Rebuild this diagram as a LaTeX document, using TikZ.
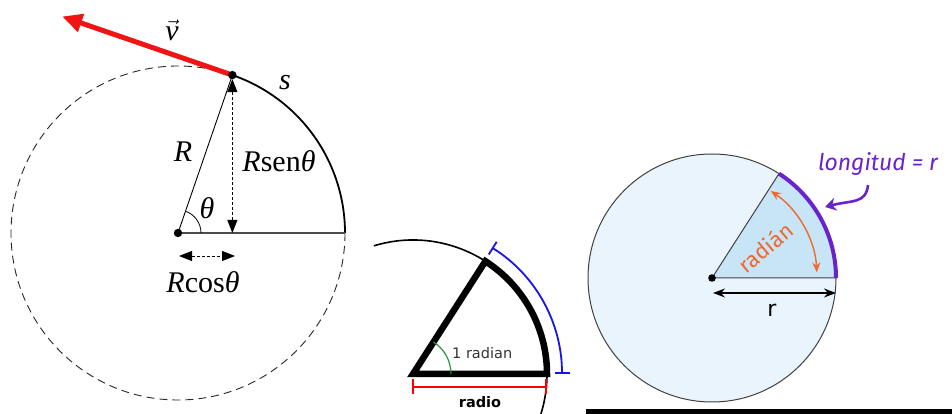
\documentclass[tikz,border=0pt]{standalone}
\usepackage{fontspec}
\setmainfont{Liberation Serif}
\setsansfont{DejaVu Sans}
\newfontfamily\comicf{Fira Sans}
\usetikzlibrary{arrows.meta,calc}
\definecolor{vred}{RGB}{240,20,20}
\definecolor{lightcirc}{RGB}{234,244,252}
\definecolor{sectblue}{RGB}{200,228,247}
\definecolor{purp}{RGB}{105,35,205}
\definecolor{orng}{RGB}{240,105,45}
\definecolor{grn}{RGB}{40,150,60}
\definecolor{blu}{RGB}{20,20,235}
\tikzset{
  lbl/.style={inner sep=0pt, font=\fontsize{30}{32}\selectfont},
  dimarrow/.style={densely dashed, line width=0.9, {Triangle[length=13,width=10]}-{Triangle[length=13,width=10]}},
  dot/.style={fill=black},
}
\begin{document}
\begin{tikzpicture}[x=1pt,y=1pt]
\useasboundingbox (0,0) rectangle (952,414);
% ---------- left panel ----------
\coordinate (C1) at (178,181);
\coordinate (P) at ($(C1)+(71:167)$);
\coordinate (E1) at (345,181);
\coordinate (Q) at ($(P|-C1)$);
\coordinate (V) at ($(P)+(161:180)$);
\draw[gray!30!black, line width=0.9, dash pattern=on 8pt off 5pt] (E1) arc[start angle=0, end angle=-289, radius=167];
\draw[line width=1.8] (E1) arc[start angle=0, end angle=71, radius=167];
\draw[gray!60!black, line width=1.5] (C1) -- (E1);
\draw[line width=0.9] (C1) -- (P);
\draw[line width=0.8] ($(C1)+(23,0)$) arc[start angle=0, end angle=71, radius=23];
\draw[dimarrow] (Q) -- ($(P)+(0,-4)$);
\coordinate (H1) at (179,158);
\coordinate (H2) at (235,158);
\draw[dimarrow] (H1) -- (H2);
\draw[vred, line width=5, -{Triangle[length=20,width=18]}] (P) -- (V);
\fill[dot] (C1) circle (4.2);
\fill[dot] (P) circle (4.2);
\node[lbl] (vlab) at (172,384) {$\vec{\hbox{\fontsize{30}{32}\selectfont\itshape v}}$};
\node[lbl] (slab) at (285,331) {\textit{s}};
\node[lbl, anchor=base] (Rlab) at (183,252) {\textit{R}};
\node[lbl, anchor=base] (Rsen) at (279,242) {\textit{R}sen\textit{θ}};
\node[lbl] (thlab) at (207,206) {\textit{θ}};
\node[lbl, anchor=base] (Rcos) at (203,121) {\textit{R}cos\textit{θ}};
% ---------- middle panel ----------
\coordinate (C2) at (413,40);
\begin{scope}
\clip (373,0) rectangle (585,414);
\draw[line width=1.6] ([shift={(107:134)}]C2) arc[start angle=107, end angle=-25, radius=134];
\end{scope}
\draw[line width=6.5, line join=miter] (C2) -- ($(C2)+(0:134)$) arc[start angle=0, end angle=57.3, radius=134] -- cycle;
\draw[grn, line width=1.2] ($(C2)+(38,0)$) arc[start angle=0, end angle=57.3, radius=38];
\draw[blu, line width=1.8, {Bar[width=15]}-{Bar[width=15]}] ($(C2)+(0:149)$) arc[start angle=0, end angle=58, radius=149];
\draw[red, line width=2, {Bar[width=15]}-{Bar[width=15]}] (412,27) -- (547,27);
\node[anchor=base west, inner sep=0pt, text=black!80, font=\sffamily\fontsize{14.5}{16}\selectfont] (onerad) at (452,55) {1 radian};
\node[anchor=base, inner sep=0pt, font=\sffamily\bfseries\fontsize{14.5}{16}\selectfont] (radio) at (480,6) {radio};
% ---------- right panel ----------
\coordinate (C3) at (712,136);
\fill[lightcirc] (C3) circle (124);
\fill[sectblue] (C3) -- ($(C3)+(0:124)$) arc[start angle=0, end angle=57.3, radius=124] -- cycle;
\draw[black!75, line width=1] (C3) circle (124);
\draw[black!75, line width=1] ($(C3)+(57.3:124)$) -- (C3) -- ($(C3)+(0:124)$);
\draw[purp, line width=4] ($(C3)+(0:124)$) arc[start angle=0, end angle=57.3, radius=124];
\draw[orng, line width=1.4, {Stealth[length=10,width=8]}-{Stealth[length=10,width=8]}] ($(C3)+(3:105)$) arc[start angle=3, end angle=56, radius=105];
\node[text=orng, rotate=40, inner sep=0pt, font=\comicf\fontsize{22}{24}\selectfont] (radian) at (765,167) {radián};
\fill[dot] (C3) circle (3.8);
\coordinate (r1) at (713,121);
\coordinate (r2) at (836,121);
\draw[line width=1.4, {Stealth[length=12,width=9]}-{Stealth[length=12,width=9]}] (r1) -- (r2);
\node[anchor=base, inner sep=0pt, font=\sffamily\fontsize{22}{24}\selectfont] (rlab) at (772,97) {r};
\node[text=purp, inner sep=0pt, font=\comicf\itshape\fontsize{23}{26}\selectfont] (longlab) at (878,250) {longitud = r};
\draw[purp, line width=2.6, -{Stealth[length=11,width=13]}] (868,229) .. controls (866,210) and (852,214) .. (825,207);
\fill (586,0) rectangle (952,5);
\end{tikzpicture}
\end{document}
